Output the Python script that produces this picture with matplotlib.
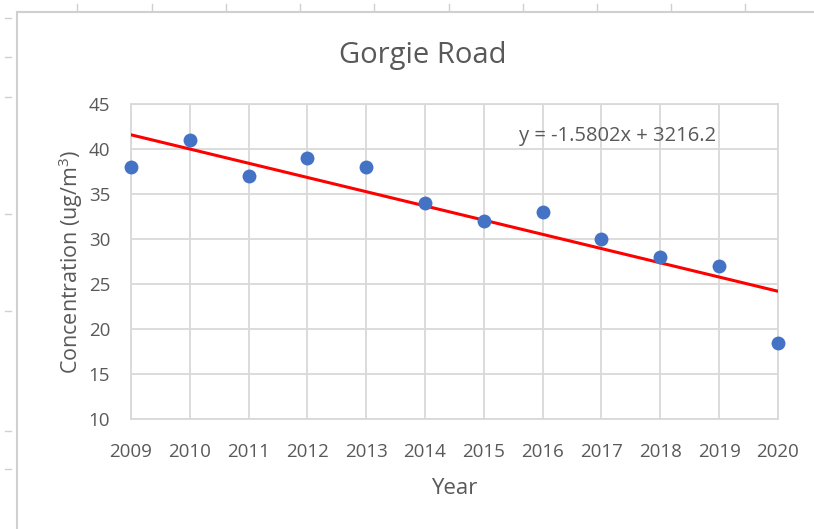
"""Gorgie Road NO2 concentration with linear trend."""

import matplotlib

matplotlib.use("Agg")
from matplotlib import pyplot as plt
from matplotlib.lines import Line2D
import numpy as np

years = [2009, 2010, 2011, 2012, 2013, 2014, 2015, 2016, 2017, 2018, 2019, 2020]
concentration = [38, 41, 37, 39, 38, 34, 32, 33, 30, 28, 27, 18.4]
trend_slope = -1.5802
trend_intercept = 3216.2
y_ticks = [10, 15, 20, 25, 30, 35, 40, 45]

TEXT = "#595959"
GRID = "#d9d9d9"

plt.rcParams["font.family"] = ["Open Sans", "DejaVu Sans"]
plt.rcParams["mathtext.fontset"] = "custom"
plt.rcParams["mathtext.rm"] = "Open Sans"

figure = plt.figure(figsize=(8.14, 5.29), dpi=100)
axis = figure.add_axes((0.1609, 0.2079, 0.7948, 0.5955))

# trend line drawn from the Excel equation
trend_x = np.array([years[0], years[-1]])
axis.plot(trend_x, trend_slope * trend_x + trend_intercept, color="#ff0000", lw=2.2, zorder=3)
axis.plot(
    years,
    concentration,
    "o",
    color="#4472c4",
    markersize=10,
    markeredgewidth=0,
    zorder=4,
    clip_on=False,
)

axis.set_xlim(years[0], years[-1])
axis.set_ylim(y_ticks[0], y_ticks[-1])
axis.set_xticks(years)
axis.set_yticks(y_ticks)
axis.grid(True, color=GRID, lw=1.3)
axis.set_axisbelow(True)
for spine in axis.spines.values():
    spine.set_color(GRID)
    spine.set_linewidth(1.3)
axis.tick_params(length=0, labelsize=13.5, labelcolor=TEXT)
axis.tick_params(axis="x", pad=17.5)
axis.tick_params(axis="y", pad=15)

axis.set_xlabel("Year", fontsize=16, color=TEXT, labelpad=12)
axis.set_ylabel("Concentration (ug/m$\\mathrm{^3}$)", fontsize=15.5, color=TEXT, labelpad=2.5)
axis.set_title("Gorgie Road", fontsize=21, color=TEXT, pad=29.5)
axis.title.set_x(0.451)  # Excel centres the title on the chart area, not the plot
axis.text(2015.6, 41.4, "y = -1.5802x + 3216.2", fontsize=14.5, color=TEXT, va="center")

# chart area border and surrounding spreadsheet grid stubs
border = "#d0d0d0"
figure.add_artist(Line2D([17 / 814, 1.0], [1 - 12 / 529] * 2, color=border, lw=1.5))
figure.add_artist(Line2D([17 / 814] * 2, [0.0, 1 - 12 / 529], color=border, lw=1.5))
for px in [77, 152, 226, 300, 374, 449, 523, 597, 671, 745]:
    figure.add_artist(Line2D([px / 814] * 2, [1 - 4 / 529, 1 - 10 / 529], color=border, lw=1))
for py in [18, 57, 97, 214, 311, 431, 469]:
    figure.add_artist(Line2D([5 / 814, 11 / 814], [1 - py / 529] * 2, color=border, lw=1))

figure.savefig("out.png", dpi=100)
plt.close(figure)
